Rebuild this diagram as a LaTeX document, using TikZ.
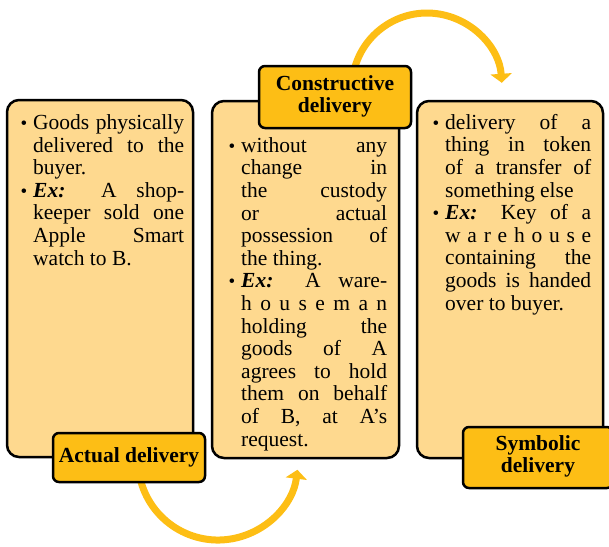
\documentclass[tikz,border=0pt]{standalone}
\usepackage{fontspec}
\setmainfont{Liberation Serif}
\usetikzlibrary{arrows.meta}
\definecolor{lightor}{HTML}{FED98F}
\definecolor{gold}{HTML}{FDBE15}
\newcommand{\jl}[1]{\makebox[\linewidth][s]{#1}\\}
\newcommand{\bul}{\leavevmode\llap{\raisebox{0pt}{\fontsize{19}{19}\selectfont\textbullet}\hspace{6pt}}}
\newcommand{\exx}{\textbf{\textit{Ex:}}}
\newcommand{\bodyfont}{\fontsize{21.5}{22.6}\selectfont\lineskiplimit=-20pt}
\newcommand{\twol}[2]{\raisebox{-3pt}{\begin{tabular}{@{}c@{}}#1\\#2\end{tabular}}}
\begin{document}
\begin{tikzpicture}[x=1pt,y=-1pt,
  panel/.style={draw=black, line width=2.5pt, fill=lightor, rounded corners=12pt, rectangle, inner sep=0pt},
  tag/.style={draw=black, line width=2.5pt, fill=gold, rounded corners=6pt, rectangle, inner sep=0pt,
    align=center, font=\fontsize{21.5}{22}\selectfont\bfseries},
  txt/.style={anchor=base west, inner sep=0pt, font=\bodyfont},
  flow/.style={draw=gold, line width=7pt, -{Triangle[width=21pt,length=9pt]}}]
\useasboundingbox (0,0) rectangle (609,546);
% panels
\node[panel, minimum width=186pt, minimum height=357pt] (b1) at (100,278.5) {};
\node[panel, minimum width=187pt, minimum height=357pt] (b2) at (305.5,279.5) {};
\node[panel, minimum width=186pt, minimum height=357pt] (b3) at (510,279.5) {};
% connectors
\coordinate (s1) at (353.1,75.0);
\coordinate (s2) at (139.2,473.9);
\draw[flow] (s1) arc[start angle=170, end angle=4, radius=75pt];
\draw[flow] (s2) arc[start angle=190, end angle=353, radius=80pt];
% tags
\node[tag, minimum width=152pt, minimum height=49pt] (t1) at (129,457.5) {\raisebox{-2pt}{Actual delivery}};
\node[tag, minimum width=152pt, minimum height=62pt] (t2) at (335,97) {\twol{Constructive}{delivery}};
\node[tag, minimum width=150pt, minimum height=61pt] (t3) at (538,457.5) {\twol{Symbolic}{delivery}};
% texts
\node[txt] (x1) at (33,129.5) {\parbox[t]{151pt}{\bodyfont
\bul\jl{Goods physically}
\jl{delivered to the}
buyer.\\
\bul\jl{\exx{} A shop-}
\jl{keeper sold one}
\jl{Apple Smart}
watch to B.}};
\node[txt] (x2) at (241,152.3) {\parbox[t]{146pt}{\bodyfont
\bul\jl{without any}
\jl{change in}
\jl{the custody}
\jl{or actual}
\jl{possession of}
the thing.\\
\bul\jl{\exx{} A ware-}
\jl{h o u s e m a n}
\jl{holding the}
\jl{goods of A}
\jl{agrees to hold}
\jl{them on behalf}
\jl{of B, at A’s}
request.}};
\node[txt] (x3) at (445,129.3) {\parbox[t]{146pt}{\bodyfont
\bul\jl{delivery of a}
\jl{thing in token}
\jl{of a transfer of}
something else\\
\bul\jl{\exx{} Key of a}
\jl{w a r e h o u s e}
\jl{containing the}
\jl{goods is handed}
over to buyer.}};
\end{tikzpicture}
\end{document}
